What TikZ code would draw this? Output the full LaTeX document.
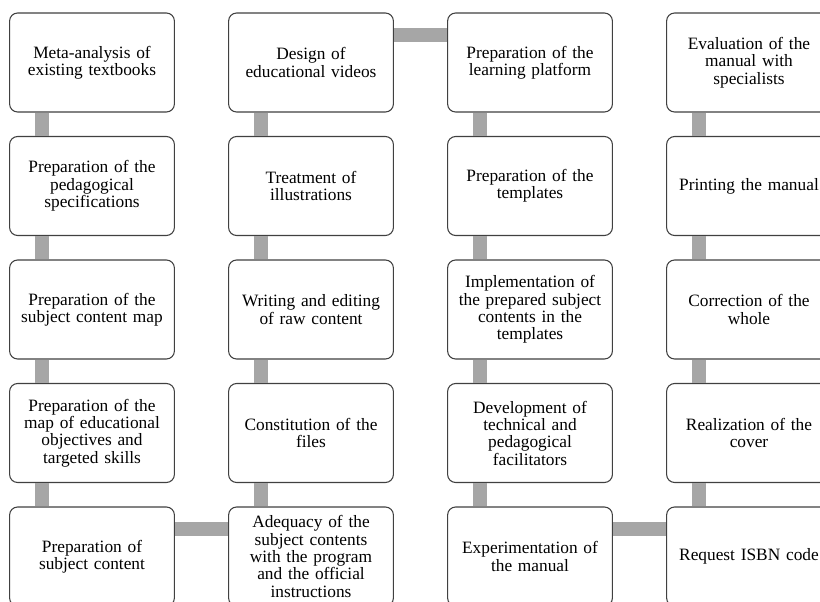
\documentclass[tikz,border=0pt]{standalone}
\usepackage{fontspec}
\setmainfont{Liberation Serif}
\definecolor{linkgray}{HTML}{A6A6A6}
\definecolor{boxline}{HTML}{404040}
\tikzset{
  stepbox/.style={draw=boxline, line width=0.8pt, fill=white, rounded corners=6pt,
    text width=114pt, inner xsep=4.8pt, inner ysep=0pt, minimum height=74.25pt,
    align=center, font=\fontsize{13}{13}\selectfont},
  link/.style={draw=linkgray, line width=10.5pt}
}
\begin{document}
\begin{tikzpicture}[x=0.75pt, y=-0.75pt]
    \useasboundingbox (0,0) rectangle (820,601);
    \clip (0,0) rectangle (820,601);
    % Colonne 1
    \node[stepbox] (meta) at (92,62.5) {Meta-analysis of\\existing textbooks};
    \node[stepbox] (specs) at (92,186) {Preparation of the\\pedagogical\\specifications};
    \node[stepbox] (contmap) at (92,309.5) {Preparation of the\\subject content map};
    \node[stepbox] (objmap) at (92,433) {Preparation of the\\map of educational\\objectives and\\targeted skills};
    \node[stepbox] (subj) at (92,556.5) {Preparation of\\subject content};
    % Colonne 2
    \node[stepbox] (design) at (311,62.5) {Design of\\educational videos};
    \node[stepbox] (illus) at (311,186) {Treatment of\\illustrations};
    \node[stepbox] (writing) at (311,309.5) {Writing and editing\\of raw content};
    \node[stepbox] (files) at (311,433) {Constitution of the\\files};
    \node[stepbox] (adequacy) at (311,556.5) {Adequacy of the\\subject contents\\with the program\\and the official\\instructions};
    % Colonne 3
    \node[stepbox] (platform) at (530,62.5) {Preparation of the\\learning platform};
    \node[stepbox] (templates) at (530,186) {Preparation of the\\templates};
    \node[stepbox] (implem) at (530,309.5) {Implementation of\\the prepared subject\\contents in the\\templates};
    \node[stepbox] (facil) at (530,433) {Development of\\technical and\\pedagogical\\facilitators};
    \node[stepbox] (experim) at (530,556.5) {Experimentation of\\the manual};
    % Colonne 4
    \node[stepbox] (evalu) at (749,62.5) {Evaluation of the\\manual with\\specialists};
    \node[stepbox] (printing) at (749,186) {Printing the manual};
    \node[stepbox] (correct) at (749,309.5) {Correction of the\\whole};
    \node[stepbox] (cover) at (749,433) {Realization of the\\cover};
    \node[stepbox] (isbn) at (749,556.5) {Request ISBN code};
    % Liaisons verticales
    \foreach \a/\b in {meta/specs, specs/contmap, contmap/objmap, objmap/subj,
                       design/illus, illus/writing, writing/files, files/adequacy,
                       platform/templates, templates/implem, implem/facil, facil/experim,
                       evalu/printing, printing/correct, correct/cover, cover/isbn}
      \draw[link] ([xshift=24.75pt]\a.south west) -- ([xshift=24.75pt]\b.north west);
    % Liaisons horizontales
    \draw[link] ([yshift=-17.25pt]subj.north east) -- ([yshift=-17.25pt]adequacy.north west);
    \draw[link] ([yshift=-17.25pt]design.north east) -- ([yshift=-17.25pt]platform.north west);
    \draw[link] ([yshift=-17.25pt]experim.north east) -- ([yshift=-17.25pt]isbn.north west);
\end{tikzpicture}
\end{document}
